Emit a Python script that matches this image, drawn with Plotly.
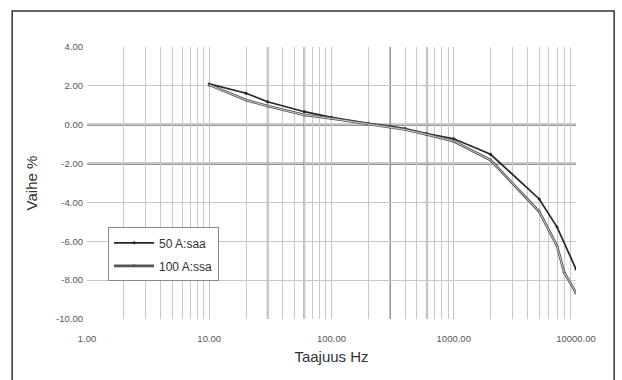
import plotly.graph_objects as go

freq_50 = [10, 20, 30, 60, 100, 200, 300, 400, 600, 1000, 2000, 5000, 7000, 10000]
phase_50 = [2.10, 1.62, 1.18, 0.67, 0.38, 0.07, -0.07, -0.20, -0.45, -0.72, -1.52, -3.82, -5.27, -7.43]
freq_100 = [10, 20, 30, 60, 100, 200, 300, 400, 600, 1000, 2000, 5000, 7000, 8000, 10000]
phase_100 = [2.05, 1.27, 0.96, 0.50, 0.32, 0.05, -0.10, -0.25, -0.50, -0.85, -1.82, -4.47, -6.24, -7.60, -8.65]

x_tick_vals = [1, 10, 100, 1000, 10000]
x_tick_text = ["1.00", "10.00", "100.00", "1000.00", "10000.00"]
y_tick_vals = [-10, -8, -6, -4, -2, 0, 2, 4]
y_tick_text = ["-10.00", "-8.00", "-6.00", "-4.00", "-2.00", "0.00", "2.00", "4.00"]
dark_vlines = [30, 60, 300, 600]
dark_hlines = [0, -2]

FONT = "Liberation Sans, Arial, sans-serif"

minor_vals = [m * 10 ** d for d in range(0, 4) for m in range(2, 10)]

fig = go.Figure()
fig.add_trace(go.Scatter(
    x=freq_50, y=phase_50, name="50 A:saa", mode="lines+markers",
    legendgroup="a",
    line=dict(color="#262626", width=1.7),
    marker=dict(size=3, color="#262626"),
))
fig.add_trace(go.Scatter(
    x=freq_100, y=phase_100, name="100 A:ssa", mode="lines+markers",
    legendgroup="b",
    line=dict(color="#555555", width=2.6),
    marker=dict(size=3, color="#555555"),
))
fig.add_trace(go.Scatter(
    x=freq_100, y=phase_100, showlegend=False, mode="lines", hoverinfo="skip",
    legendgroup="b",
    line=dict(color="#e8e8e8", width=0.8),
))

shapes = []
for v in dark_vlines:
    shapes.append(dict(type="line", xref="x", yref="paper", x0=v, x1=v, y0=0, y1=1,
                       line=dict(color="#3a3a3a", width=1.4), layer="between"))
for h in dark_hlines:
    shapes.append(dict(type="line", xref="paper", yref="y", x0=0, x1=1, y0=h, y1=h,
                       line=dict(color="#2e2e2e", width=1.8), layer="between"))
# outer frame
shapes.append(dict(type="rect", xref="paper", yref="paper", x0=-0.153, x1=1.078,
                   y0=-0.4, y1=1.132, line=dict(color="#333333", width=1.5)))

fig.update_layout(
    width=622, height=380,
    margin=dict(l=87, r=46, t=47, b=61),
    paper_bgcolor="white", plot_bgcolor="white",
    font=dict(family=FONT, color="#333333"),
    shapes=shapes,
    showlegend=True,
    legend=dict(x=0.043, y=0.337, xanchor="left", yanchor="top",
                bgcolor="white", bordercolor="#888888", borderwidth=1,
                font=dict(family=FONT, size=12, color="#333333"),
                itemwidth=40, traceorder="grouped", tracegroupgap=4),
    xaxis=dict(
        type="log", range=[0, 4.0],
        tickvals=x_tick_vals, ticktext=x_tick_text,
        tickfont=dict(size=9.5, color="#555555"),
        showgrid=True, gridcolor="#c4c4c4", gridwidth=1,
        minor=dict(tickvals=minor_vals, showgrid=True, gridcolor="#c8c8c8", gridwidth=1),
        zeroline=False, showline=False, ticks="", ticklabelstandoff=12,
        title=dict(text="Taajuus Hz", font=dict(size=15, color="#333333"), standoff=8),
    ),
    yaxis=dict(
        range=[-10, 4],
        tickvals=y_tick_vals, ticktext=y_tick_text,
        tickfont=dict(size=9.5, color="#555555"),
        showgrid=True, gridcolor="#c8c8c8", gridwidth=1.3,
        zeroline=False, showline=False, ticks="", ticklabelstandoff=3,
        title=dict(text="Vaihe %", font=dict(size=15, color="#333333"), standoff=14),
    ),
)

fig.write_html("out.html")
